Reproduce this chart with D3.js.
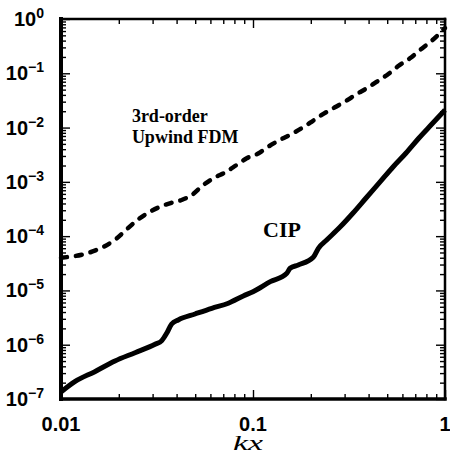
<!DOCTYPE html>
<html lang="en">
<head>
    <meta charset="UTF-8">
    <title>Error vs kx: CIP and 3rd-order Upwind FDM</title>
    <script src="https://d3js.org/d3.v7.min.js"></script>
    <style>
        body { margin: 0; background: #fff; overflow: hidden; }
        .tick-label { font-family: "Liberation Sans", Arial, sans-serif; font-weight: bold; font-size: 20px; fill: #000; }
        .note { font-family: "Liberation Serif", "Times New Roman", serif; font-weight: bold; fill: #000; }
        .axis-title { font-family: "Liberation Serif", "Times New Roman", serif; font-style: italic; font-size: 20px; fill: #000; }
        .curve { fill: none; stroke: #000; }
    </style>
</head>
<body>
    <div id="chart"></div>
    <script>
        const width = 450, height = 470;
        const margin = { top: 19, right: 5, bottom: 71, left: 61 };

        // 3rd-order upwind FDM (dashed)
        const upwindKx = [0.01, 0.0133, 0.0150, 0.0170, 0.0195, 0.0220, 0.0253, 0.0291, 0.0335, 0.0377,
            0.0425, 0.0480, 0.0551, 0.0634, 0.0715, 0.0822, 0.0927, 0.107, 0.120, 0.138,
            0.159, 0.179, 0.202, 0.228, 0.267, 0.301, 0.347, 0.391, 0.450, 0.507,
            0.571, 0.657, 0.741, 0.853, 1.0];
        const upwindErr = [4.0e-5, 4.7e-5, 5.4e-5, 6.6e-5, 9.1e-5, 1.34e-4, 2.05e-4, 2.82e-4, 3.59e-4, 4.13e-4,
            4.63e-4, 5.73e-4, 8.75e-4, 1.21e-3, 1.48e-3, 2.05e-3, 2.72e-3, 3.36e-3, 4.44e-3, 5.91e-3,
            7.62e-3, 9.70e-3, 1.28e-2, 1.71e-2, 2.36e-2, 3.00e-2, 4.15e-2, 5.29e-2, 7.31e-2, 9.71e-2,
            0.136, 0.189, 0.268, 0.398, 0.68];

        // CIP (solid)
        const cipKx = [0.01, 0.0118, 0.0150, 0.0191, 0.0243, 0.0309, 0.0335, 0.0355, 0.0377, 0.0408,
            0.0499, 0.0610, 0.0744, 0.0890, 0.100, 0.123, 0.150, 0.156, 0.172, 0.206,
            0.219, 0.242, 0.284, 0.332, 0.388, 0.459, 0.536, 0.627, 0.732, 0.855, 1.0];
        const cipErr = [1.35e-7, 2.09e-7, 3.19e-7, 5.01e-7, 7.13e-7, 1.02e-6, 1.19e-6, 1.62e-6, 2.41e-6, 2.86e-6,
            3.68e-6, 4.69e-6, 5.80e-6, 7.91e-6, 9.48e-6, 1.45e-5, 2.07e-5, 2.56e-5, 2.94e-5, 4.08e-5,
            5.97e-5, 8.49e-5, 1.47e-4, 2.67e-4, 5.04e-4, 9.95e-4, 1.88e-3, 3.40e-3, 6.43e-3, 1.16e-2, 2.11e-2];

        const xTickValues = [0.01, 0.1, 1];
        const xTickLabels = ["0.01", "0.1", "1"];
        const yTickValues = [1e-7, 1e-6, 1e-5, 1e-4, 1e-3, 1e-2, 1e-1, 1e0];
        const yTickExps = ["\u22127", "\u22126", "\u22125", "\u22124", "\u22123", "\u22122", "\u22121", "0"];

        const svg = d3.select("#chart").append("svg")
            .attr("width", width)
            .attr("height", height);

        const x = d3.scaleLog().domain([0.01, 1]).range([margin.left, width - margin.right]);
        const y = d3.scaleLog().domain([1e-7, 1]).range([height - margin.bottom, margin.top]);

        const x0 = x.range()[0], x1 = x.range()[1];
        const y0 = y.range()[0], y1 = y.range()[1];

        // inward ticks on all four sides: minors first, then lengthen majors
        const isMajor = v => Math.abs(Math.log10(v) - Math.round(Math.log10(v))) < 1e-6;
        const minorLen = 5, majorLen = 9;

        function styleTicks(g, horizontal, sign) {
            g.select(".domain").remove();
            g.selectAll(".tick text").remove();
            g.selectAll(".tick line")
                .attr("stroke", "#000")
                .attr("stroke-width", 1.4)
                .attr(horizontal ? "y2" : "x2", d => sign * (isMajor(d) ? majorLen : minorLen));
        }

        svg.append("g").attr("transform", `translate(0,${y0})`)
            .call(d3.axisBottom(x).tickValues(x.ticks())).call(g => styleTicks(g, true, -1));
        svg.append("g").attr("transform", `translate(0,${y1})`)
            .call(d3.axisTop(x).tickValues(x.ticks())).call(g => styleTicks(g, true, 1));
        svg.append("g").attr("transform", `translate(${x0},0)`)
            .call(d3.axisLeft(y).tickValues(y.ticks())).call(g => styleTicks(g, false, 1));
        svg.append("g").attr("transform", `translate(${x1},0)`)
            .call(d3.axisRight(y).tickValues(y.ticks())).call(g => styleTicks(g, false, -1));

        // frame (left and bottom drawn a bit heavier, as in the print)
        const frame = svg.append("g").attr("stroke", "#000").attr("stroke-linecap", "square");
        frame.append("line").attr("x1", x0).attr("x2", x0).attr("y1", y1).attr("y2", y0).attr("stroke-width", 4);
        frame.append("line").attr("x1", x0).attr("x2", x1).attr("y1", y0).attr("y2", y0).attr("stroke-width", 3.5);
        frame.append("line").attr("x1", x0).attr("x2", x1).attr("y1", y1).attr("y2", y1).attr("stroke-width", 2.5);
        frame.append("line").attr("x1", x1).attr("x2", x1).attr("y1", y1).attr("y2", y0).attr("stroke-width", 2.5);

        // y labels 10^n
        yTickValues.forEach((v, i) => {
            const t = svg.append("text")
                .attr("class", "tick-label")
                .attr("x", 44)
                .attr("y", y(v) + 7)
                .attr("text-anchor", "end");
            t.append("tspan").text("10");
            t.append("tspan").attr("dy", -8).style("font-size", "14px").text(yTickExps[i]);
        });

        // x labels
        svg.selectAll(".xlab")
            .data(xTickValues)
            .enter().append("text")
            .attr("class", "tick-label")
            .attr("x", d => x(d))
            .attr("y", 431)
            .attr("text-anchor", "middle")
            .text((d, i) => xTickLabels[i]);

        svg.append("text")
            .attr("class", "axis-title")
            .attr("x", 233)
            .attr("y", 450)
            .attr("textLength", 30)
            .attr("lengthAdjust", "spacingAndGlyphs")
            .text("kx");

        const line = d3.line()
            .x(d => x(d[0]))
            .y(d => y(d[1]))
            .curve(d3.curveMonotoneX);

        svg.append("path")
            .attr("class", "curve")
            .attr("d", line(d3.zip(upwindKx, upwindErr)))
            .attr("stroke-width", 4.5)
            .attr("stroke-linecap", "round")
            .attr("stroke-dasharray", "6,9");

        svg.append("path")
            .attr("class", "curve")
            .attr("d", line(d3.zip(cipKx, cipErr)))
            .attr("stroke-width", 5)
            .attr("stroke-linejoin", "round");

        // annotations
        const note = svg.append("text")
            .attr("class", "note")
            .style("font-size", "18px")
            .attr("x", x(0.0234))
            .attr("y", y(1.27e-2));
        note.append("tspan").text("3rd-order");
        note.append("tspan").attr("x", x(0.0234)).attr("dy", 21).text("Upwind FDM");

        svg.append("text")
            .attr("class", "note")
            .style("font-size", "22px")
            .attr("x", x(0.1128))
            .attr("y", y(9.7e-5))
            .text("CIP");
    </script>
</body>
</html>
